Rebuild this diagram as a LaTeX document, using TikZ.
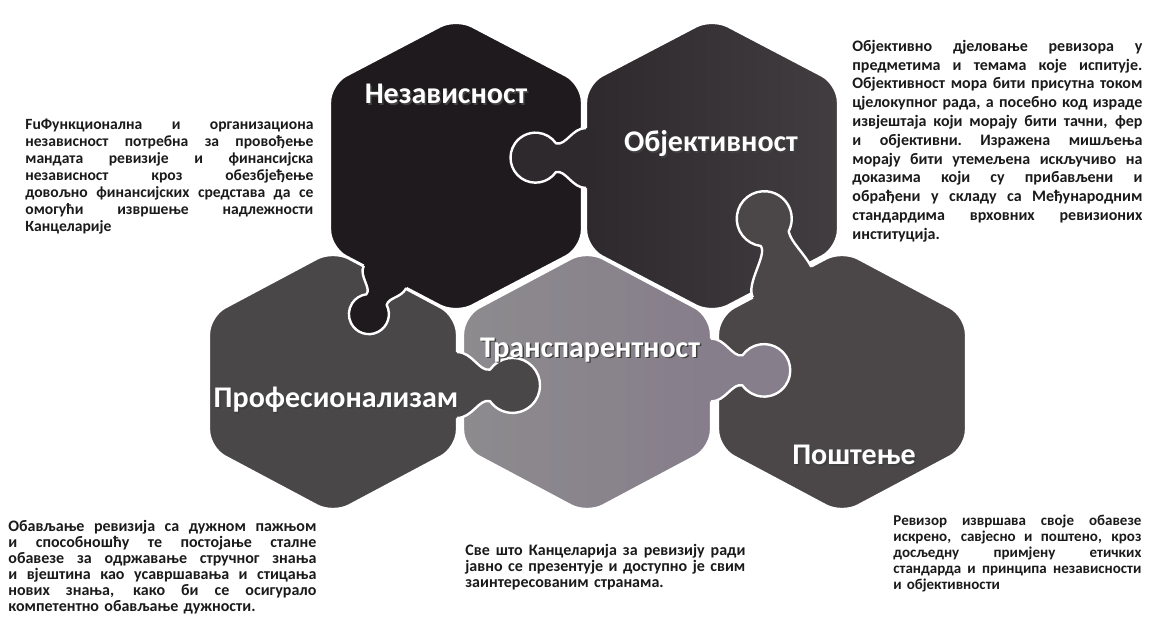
\documentclass[tikz,border=0pt]{standalone}
\usepackage{fontspec}
\setmainfont{Carlito}

\definecolor{nezcol}{HTML}{1E1A1D}
\definecolor{objleft}{HTML}{2D292C}
\definecolor{objright}{HTML}{423D40}
\definecolor{profcol}{HTML}{4A4748}
\definecolor{transleft}{HTML}{8D8B8E}
\definecolor{transmid}{HTML}{9A8FA2}
\definecolor{transright}{HTML}{867E8B}
\definecolor{postcol}{HTML}{4B4749}
\definecolor{bodyink}{HTML}{1A1A1A}

% lines of a justified text block
\newlength{\blockw}
\newcommand{\jl}[1]{\hbox to\blockw{\spaceskip=.25em plus 1fil\xspaceskip=\spaceskip #1}}
\newcommand{\lastline}[1]{\hbox{#1}}
% puzzle knob: base point, direction, size, neck length, head offset, colour
\newcommand{\knobcurve}{.. controls (14,-30) and ({20+\nl},{-12+\nd}) .. ({30+\nl},{-14+\nd})
  arc[start angle=-145, end angle=145, radius=25]
  .. controls ({20+\nl},{12+\nd}) and (14,30) .. (0,30)}
\newcommand{\knob}[6]{%
  \begin{scope}[shift={(#1)}, rotate=#2, scale=#3]
    \def\nl{#4}\def\nd{#5}
    \fill[#6] (-10,-30) -- (0,-30) \knobcurve -- (-10,30) -- cycle;
    \draw[knobedge] (0,-30) \knobcurve;
  \end{scope}}

\begin{document}
\begin{tikzpicture}[x=0.5pt, y=-0.5pt, line join=round,
    piece/.style={draw=white, line width=1.2pt, rounded corners=9pt},
    knobedge/.style={white, line width=1.2pt},
    piecelabel/.style={font=\fontsize{15}{17}\selectfont\bfseries, text=white, inner sep=0pt},
    labelshade/.style={piecelabel, text=black!75},
    bodytext/.style={font=\fontsize{8}{8.75}\selectfont\bfseries, text=bodyink, inner sep=0pt, align=left, anchor=north west}]
  \useasboundingbox (0,0) rectangle (1151,621);
  % top row
  \path[piece, fill=nezcol] (330,166) -- (330,84) -- (456,18) -- (582,84) -- (582,248) -- (456,314) -- (330,248) -- cycle;
  \path[piece, left color=objleft, right color=objright] (586,166) -- (586,84) -- (712,18) -- (838,84) -- (838,248) -- (712,314) -- (586,248) -- cycle;
  % bottom row
  \path[piece, fill=profcol] (209,382) -- (209,316) -- (333,250) -- (457,316) -- (457,448) -- (333,514) -- (209,448) -- cycle;
  \path[piece, left color=transleft, middle color=transmid, right color=transright] (463,382) -- (463,316) -- (587,250) -- (711,316) -- (711,448) -- (587,514) -- (463,448) -- cycle;
  \path[piece, fill=postcol] (718,382) -- (718,316) -- (842,250) -- (966,316) -- (966,448) -- (842,514) -- (718,448) -- cycle;
  % knobs
  \knob{586,158}{180}{1}{0}{0}{objleft}
  \knob{385,277}{-117.6}{0.8}{0}{-4}{nezcol}
  \knob{782,282}{117.6}{1.1}{8}{12}{postcol}
  \knob{457,385}{0}{1.1}{0}{0}{profcol}
  \knob{711,370}{0}{1.05}{0}{0}{transright}
  % labels with their shadows
  \node[labelshade] (nezshade) at (447.5,95.5) {Независност};
  \node[piecelabel] (nez) at (446,94) {Независност};
  \node[labelshade] (objshade) at (712.5,145.5) {Објективност};
  \node[piecelabel] (obj) at (711,144) {Објективност};
  \node[labelshade] (transshade) at (591.5,351.5) {Транспарентност};
  \node[piecelabel] (trans) at (590,350) {Транспарентност};
  \node[labelshade] (profshade) at (337.5,401.5) {Професионализам};
  \node[piecelabel] (prof) at (336,400) {Професионализам};
  \node[labelshade] (postshade) at (855.5,456.5) {Поштење};
  \node[piecelabel] (post) at (854,455) {Поштење};
  % texts
  \node[bodytext, text width=144pt, font=\fontsize{7.8}{8.5}\selectfont\bfseries] (neztext) at (25,112) {\setlength{\blockw}{144pt}\par
    \jl{FuФункционална и организациона}
    \jl{независност потребна за провођење}
    \jl{мандата ревизије и финансијска}
    \jl{независност кроз обезбјеђење}
    \jl{довољно финансијских средстава да се}
    \jl{омогући извршење надлежности}
    \lastline{Канцеларије}};
  \node[bodytext, text width=145pt, font=\fontsize{8}{9.4}\selectfont\bfseries] (objtext) at (852,32) {\setlength{\blockw}{145pt}\par
    \jl{Објективно дјеловање ревизора у}
    \jl{предметима и темама које испитује.}
    \jl{Објективност мора бити присутна током}
    \jl{цјелокупног рада, а посебно код израде}
    \jl{извјештаја који морају бити тачни, фер}
    \jl{и објективни. Изражена мишљења}
    \jl{морају бити утемељена искључиво на}
    \jl{доказима који су прибављени и}
    \jl{обрађени у складу са Међународним}
    \jl{стандардима врховних ревизионих}
    \lastline{институција.}};
  \node[bodytext, text width=154pt, font=\fontsize{8}{8}\selectfont\bfseries] (proftext) at (8,515) {\setlength{\blockw}{154pt}\par
    \jl{Обављање ревизија са дужном пажњом}
    \jl{и способношћу те постојање сталне}
    \jl{обавезе за одржавање стручног знања}
    \jl{и вјештина као усавршавања и стицања}
    \jl{нових знања, како би се осигурало}
    \lastline{компетентно обављање дужности.}};
  \node[bodytext, text width=140pt, font=\fontsize{8}{8}\selectfont\bfseries] (transtext) at (465,539) {\setlength{\blockw}{140pt}\par
    \jl{Све што Канцеларија за ревизију ради}
    \jl{јавно се презентује и доступно је свим}
    \lastline{заинтересованим странама.}};
  \node[bodytext, text width=124pt, font=\fontsize{7.5}{8}\selectfont\bfseries] (posttext) at (893,509) {\setlength{\blockw}{124pt}\par
    \jl{Ревизор извршава своје обавезе}
    \jl{искрено, савјесно и поштено, кроз}
    \jl{досљедну примјену етичких}
    \jl{стандарда и принципа независности}
    \lastline{и објективности}};
\end{tikzpicture}
\end{document}
